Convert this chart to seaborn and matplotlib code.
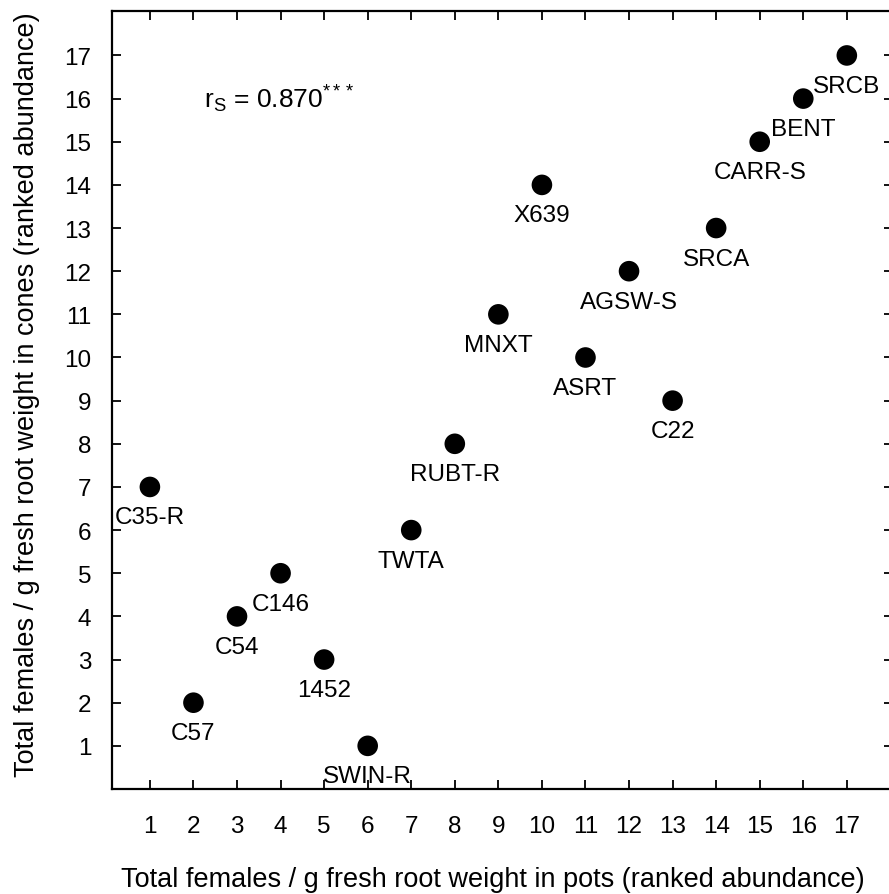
import matplotlib
matplotlib.use("Agg")
import matplotlib.pyplot as plt
import seaborn as sns
import pandas as pd

labels = ["C35-R", "C57", "C54", "C146", "1452", "SWIN-R", "TWTA", "RUBT-R", "MNXT",
          "X639", "ASRT", "AGSW-S", "C22", "SRCA", "CARR-S", "BENT", "SRCB"]
pots_rank = [1, 2, 3, 4, 5, 6, 7, 8, 9, 10, 11, 12, 13, 14, 15, 16, 17]
cones_rank = [7, 2, 4, 5, 3, 1, 6, 8, 11, 14, 10, 12, 9, 13, 15, 16, 17]
ticks = list(range(1, 18))
stat_text = r"$\mathrm{r_S}$ = 0.870$^{***}$"
xlabel = "Total females / g fresh root weight in pots (ranked abundance)"
ylabel = "Total females / g fresh root weight in cones (ranked abundance)"

df = pd.DataFrame({"label": labels, "pots": pots_rank, "cones": cones_rank})

sns.set_style("ticks")
plt.rcParams["font.family"] = ["Liberation Sans", "DejaVu Sans"]
plt.rcParams["mathtext.fontset"] = "custom"
plt.rcParams["mathtext.rm"] = "Liberation Sans"
plt.rcParams["mathtext.it"] = "Liberation Sans"
plt.rcParams["text.color"] = "black"
plt.rcParams["axes.labelcolor"] = "black"
plt.rcParams["xtick.color"] = "black"
plt.rcParams["ytick.color"] = "black"
plt.rcParams["xtick.labelcolor"] = "black"
plt.rcParams["ytick.labelcolor"] = "black"

fig = plt.figure(figsize=(8.89, 8.95), dpi=100)
ax = fig.add_axes([112 / 889, 1 - 790 / 895, (893 - 112) / 889, (790 - 12) / 895])

sns.scatterplot(data=df, x="pots", y="cones", ax=ax, color="black", s=220,
                edgecolor="none", linewidth=0, legend=False, zorder=3)

for lab, x, y in zip(labels, pots_rank, cones_rank):
    ax.annotate(lab, (x, y), xytext=(0, -26.3), textcoords="offset points",
                ha="center", va="baseline", fontsize=17.5, color="black")

ax.text(2.25, 16, stat_text, fontsize=19, ha="left", va="center", color="black")

ax.set_xlim(0.13, 18.06)
ax.set_ylim(0, 18.03)
ax.set_xticks(ticks)
ax.set_yticks(ticks)
ax.tick_params(direction="in", length=6.5, width=1.3, top=True, right=True,
               labelsize=17.5, color="black", labelcolor="black")
ax.tick_params(axis="x", pad=19)
ax.tick_params(axis="y", pad=15)
for sp in ax.spines.values():
    sp.set_linewidth(1.6)
    sp.set_color("black")

ax.set_xlabel(xlabel, fontsize=19.5, color="black")
ax.set_ylabel(ylabel, fontsize=19.5, color="black")
ax.xaxis.label.set_va("center")
ax.yaxis.label.set_va("center")
ax.xaxis.set_label_coords(0.487, -0.1157)
ax.yaxis.set_label_coords(-0.109, 0.508)

fig.savefig("out.png", dpi=100)
